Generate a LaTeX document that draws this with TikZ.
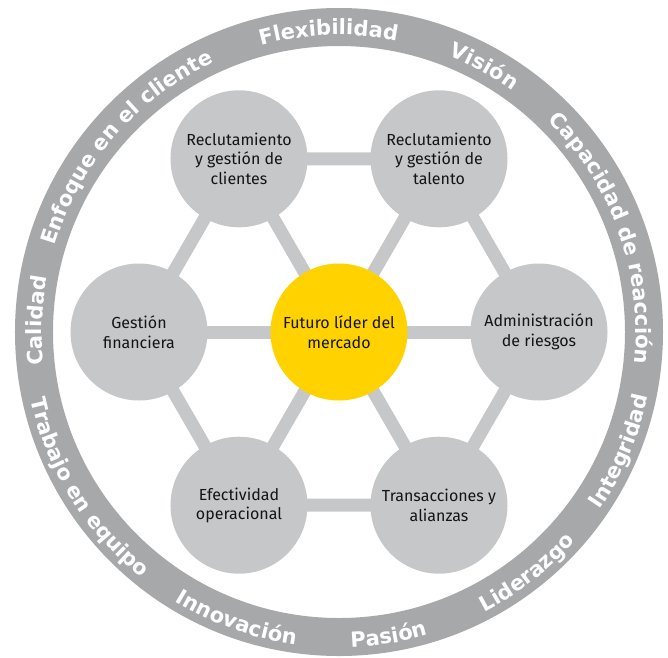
\documentclass[tikz,border=0pt]{standalone}
\usepackage{fontspec}
\setmainfont{Fira Sans}
\newfontfamily\ringfont{DejaVu Sans}
\usetikzlibrary{decorations.text,backgrounds}

\definecolor{ringgray}{HTML}{A7A8AA}
\definecolor{circgray}{HTML}{C6C7C9}
\definecolor{eyyellow}{HTML}{FFD200}
\definecolor{labelink}{HTML}{141414}

\newcommand\ringstyle{\ringfont\bfseries\fontsize{21}{21}\selectfont\color{white}}
\newcommand\labelfont{\fontsize{16}{19.5}\selectfont}

% words set along the upper part of the ring, read clockwise
\newcommand\topword[2]{%
  \path[decorate,decoration={text along path,text align=center,
    text={|\ringstyle|#2}}]
    (#1+70:297) arc[start angle=#1+70, end angle=#1-70, radius=297];}
% words set along the lower part of the ring, read counter-clockwise
\newcommand\bottomword[2]{%
  \path[decorate,decoration={text along path,text align=center,
    text={|\ringstyle|#2}}]
    (#1-70:315.5) arc[start angle=#1-70, end angle=#1+70, radius=315.5];}

\begin{document}
\begin{tikzpicture}[x=1pt,y=1pt,
  hub/.style={circle, fill=eyyellow, minimum size=137pt, inner sep=0pt,
    align=center, text=labelink, font=\labelfont},
  area/.style={circle, fill=circgray, minimum size=137pt, inner sep=0pt,
    align=center, text=labelink, font=\labelfont},
  link/.style={line width=13pt, draw=circgray}]
\useasboundingbox (-339,-325) rectangle (329,332);

% outer ring of values
\draw[ringgray, line width=38pt] (0,0) circle[radius=305];

% hub and the six surrounding areas
\node[hub]  (core) at (0,0)      {Futuro líder del\\mercado};
\node[area] (tl)   at (120:200)  {Reclutamiento\\y gestión de\\clientes};
\node[area] (tr)   at (60:200)   {Reclutamiento\\y gestión de\\talento};
\node[area] (rt)   at (0:200)    {Administración\\de riesgos};
\node[area] (br)   at (-60:200)  {Transacciones y\\alianzas};
\node[area] (bl)   at (-120:200) {Efectividad\\operacional};
\node[area] (lt)   at (180:200)  {Gestión\\financiera};

% spokes and hexagon links behind the circles
\begin{scope}[on background layer]
  \foreach \n in {tl,tr,rt,br,bl,lt}
    \draw[link] (core.center) -- (\n.center);
  \draw[link] (tl.center) -- (tr.center) -- (rt.center) -- (br.center)
    -- (bl.center) -- (lt.center) -- cycle;
\end{scope}

% values around the ring
\topword{177.8}{Calidad}
\topword{139}{Enfoque en el cliente}
\topword{92}{Flexibilidad}
\topword{61.3}{Visión}
\topword{19.6}{Capacidad de reacción}
\bottomword{-23}{Integridad}
\bottomword{-52}{Liderazgo}
\bottomword{-80.7}{Pasión}
\bottomword{-109.6}{Innovación}
\bottomword{-148.2}{Trabajo en equipo}
\end{tikzpicture}
\end{document}
